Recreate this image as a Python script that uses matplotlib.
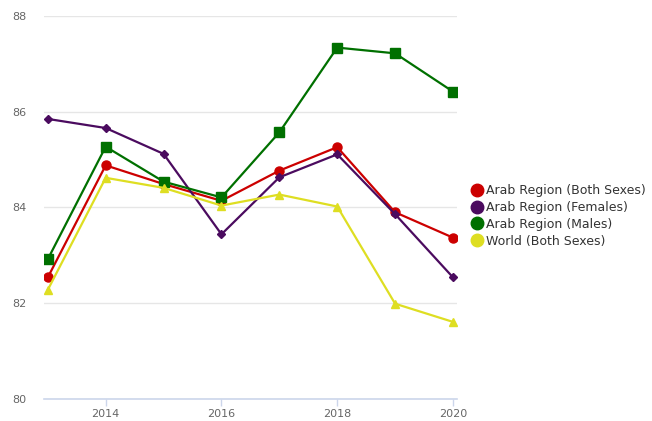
import matplotlib
matplotlib.use("Agg")
import matplotlib.pyplot as plt
from matplotlib.lines import Line2D

years = [2013, 2014, 2015, 2016, 2017, 2018, 2019, 2020]
both_sexes = [82.54, 84.88, 84.49, 84.14, 84.77, 85.26, 83.90, 83.37]
females = [85.85, 85.66, 85.12, 83.44, 84.63, 85.11, 83.86, 82.54]
males = [82.92, 85.27, 84.54, 84.21, 85.57, 87.34, 87.22, 86.42]
world = [82.28, 84.62, 84.41, 84.04, 84.27, 84.02, 81.99, 81.61]

series_names = ["Arab Region (Both Sexes)", "Arab Region (Females)",
                "Arab Region (Males)", "World (Both Sexes)"]
x_ticks = [2014, 2016, 2018, 2020]
y_ticks = [80, 82, 84, 86, 88]

colors = ["#cc0000", "#4b0b5f", "#007000", "#dede22"]
markers = ["o", "D", "s", "^"]
msizes = [6.5, 4.2, 6.5, 6.2]

fig = plt.figure(figsize=(6.52, 4.21), dpi=100)
ax = fig.add_axes([0.068, 0.0523, 0.633, 0.9097])

data = [both_sexes, females, males, world]
for vals, c, m, ms, name in zip(data, colors, markers, msizes, series_names):
    ax.plot(years, vals, color=c, marker=m, markersize=ms, linewidth=1.6,
            label=name, zorder=3)

ax.set_xlim(2012.94, 2020.07)
ax.set_ylim(80, 88)
ax.set_xticks(x_ticks)
ax.set_yticks(y_ticks)
ax.grid(axis="y", color="#e6e6e6", linewidth=1)
ax.set_axisbelow(True)
for s in ["top", "right", "left"]:
    ax.spines[s].set_visible(False)
ax.spines["bottom"].set_color("#ccd6eb")
ax.spines["bottom"].set_linewidth(1.2)
ax.tick_params(axis="x", colors="#666666", labelsize=8, length=5, width=1,
               color="#ccd6eb", pad=2)
ax.tick_params(axis="y", colors="#666666", labelsize=8, length=0, pad=13)
for lbl in ax.get_yticklabels():
    lbl.set_horizontalalignment("right")

handles = [Line2D([0], [0], marker="o", color="none", markerfacecolor=c,
                  markeredgecolor=c, markersize=9) for c in colors]
fig.legend(handles, series_names, loc="center left",
           bbox_to_anchor=(0.713, 0.487), frameon=False, fontsize=9,
           handletextpad=0.1, labelspacing=0.3, handlelength=1.2,
           borderaxespad=0, labelcolor="#333333")

fig.savefig("out.png", dpi=100)
